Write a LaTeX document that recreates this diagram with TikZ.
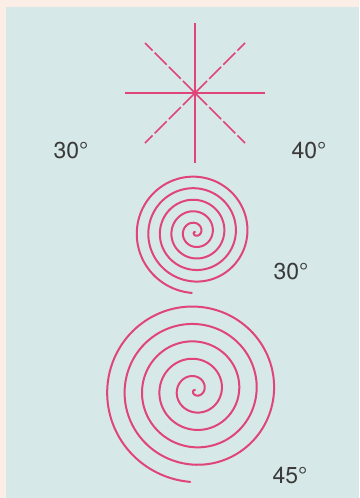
\documentclass[tikz,border=0pt]{standalone}
\usepackage{fontspec}
\setmainfont{TeX Gyre Heros}
\definecolor{cream}{HTML}{FAEEE6}
\definecolor{panel}{HTML}{D7E8E8}
\definecolor{ink}{HTML}{E0457A}
\definecolor{txt}{HTML}{3A3A3A}
\tikzset{
  starline/.style={draw=ink, line width=1.6pt},
  diagline/.style={starline, dash pattern=on 17pt off 3pt},
  spiralline/.style={draw=ink, line width=2pt, line cap=round},
  lab/.style={text=txt, font=\fontsize{23}{26}\selectfont, inner sep=0pt}
}
\begin{document}
\begin{tikzpicture}[x=1pt,y=-1pt]
\useasboundingbox (0,0) rectangle (359,498);
\fill[cream] (0,0) rectangle (359,498);
\fill[panel] (6,7) rectangle (359,498);
% star
\coordinate (c) at (195,93);
\coordinate (n) at (195,23);
\coordinate (s) at (195,163);
\coordinate (w) at (125,93);
\coordinate (e) at (265,93);
\coordinate (nw) at (145,43);
\coordinate (se) at (245,143);
\coordinate (ne) at (245,43);
\coordinate (sw) at (145,143);
\draw[starline] (n) -- (s);
\draw[starline] (w) -- (e);
\draw[diagline] (c) -- (nw);
\draw[diagline] (c) -- (se);
\draw[diagline] (c) -- (ne);
\draw[diagline] (c) -- (sw);
\fill[ink] (c) circle (2.2);
% small spiral
\draw[spiralline] plot[domain=0:1900, samples=600]
  ({195 + (\x/1900)*61*cos(1993-\x)}, {232 + (\x/1900)*61*sin(1993-\x)});
% large spiral
\draw[spiralline] plot[domain=0:1900, samples=700]
  ({195 + (\x/1900)*92*cos(1993-\x)}, {390 + (\x/1900)*92*sin(1993-\x)});
% labels
\node[lab] (la) at (71,150.5) {30°};
\node[lab] (lb) at (309,150.5) {40°};
\node[lab] (lc) at (291,272) {30°};
\node[lab] (ld) at (290,476) {45°};
\end{tikzpicture}
\end{document}
